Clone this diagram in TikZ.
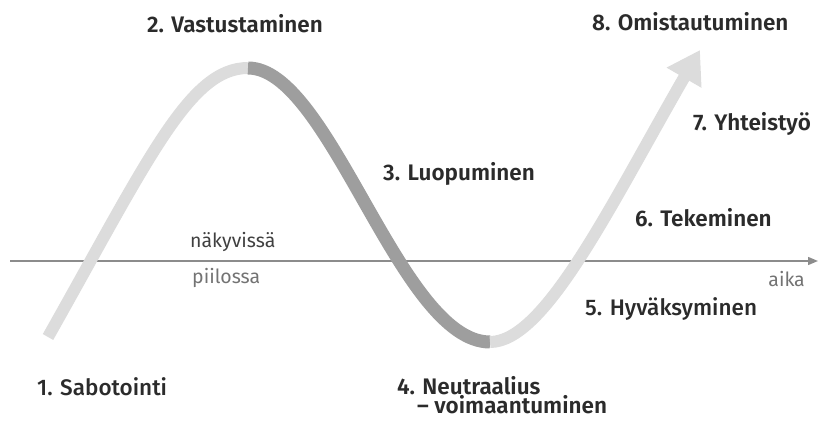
\documentclass[tikz,border=0pt]{standalone}
\usepackage{fontspec}
\setmainfont{Fira Sans}[BoldFont={Fira Sans SemiBold}]
\newfontfamily\medface{Fira Sans Medium}
\usepackage{xcolor}
\usetikzlibrary{arrows.meta,positioning}
\definecolor{inkdark}{HTML}{2B2B2B}
\definecolor{curvedark}{HTML}{9E9E9E}
\definecolor{curvelight}{HTML}{DCDCDC}
\definecolor{axisgrey}{HTML}{8C8C8C}

\begin{document}
\begin{tikzpicture}[x=1pt,y=1pt,
		stage/.style={anchor=base west,inner sep=0pt,text=inkdark,
				font=\fontsize{22.5}{27}\selectfont\bfseries},
		calm/.style={stage,font=\fontsize{22.5}{27}\selectfont\medface},
		side/.style={anchor=base west,inner sep=0pt,font=\fontsize{19.5}{23}\selectfont},
		axis/.style={draw=axisgrey,line width=1.4pt,-{Triangle[length=10pt,width=8pt]}},
		lite/.style={draw=curvelight,line width=12pt},
		heavy/.style={draw=curvedark,line width=13pt},
	]
	\useasboundingbox (0,0) rectangle (822,421);
	% time axis
	\coordinate (o) at (10,160);
	\coordinate (t) at (818,160);
	\draw[axis] (o) -- (t);
	\node[side,text=inkdark!90] (vis) at (190,174) {näkyvissä};
	\node[side,text=black!55] (hid) at (192,138) {piilossa};
	\node[side,text=black!55,anchor=base east] (time) at (805,135) {aika};
	% the wave
	\coordinate (s) at (48,84);
	\coordinate (top) at (248,353);
	\coordinate (low) at (490,79);
	\coordinate (tip) at (700,371);
	\draw[lite] (s) .. controls (150,265) and (190,353) .. (top);
	\draw[heavy] (top) .. controls (330,353) and (400,79) .. (low);
	\draw[lite,-{Triangle[length=32pt,width=38pt,fill=curvelight]}]
		(low) .. controls (545,79) and (610,215) .. (tip);
	% stages
	\node[calm] (n1) at (37,26) {1. Sabotointi};
	\node[stage] (n2) at (147,388) {2. Vastustaminen};
	\node[stage] (n3) at (383,240) {3. Luopuminen};
	\node[stage,text depth=0pt] (n4) at (397,27) {4. Neutraalius};
	\node[stage,text height=11pt] (n4b) at (417,8) {– voimaantuminen};
	\node[calm] (n5) at (585,106) {5. Hyväksyminen};
	\node[stage] (n6) at (635,194) {6. Tekeminen};
	\node[stage] (n7) at (693,290) {7. Yhteistyö};
	\node[stage] (n8) at (592,390) {8. Omistautuminen};
\end{tikzpicture}
\end{document}
